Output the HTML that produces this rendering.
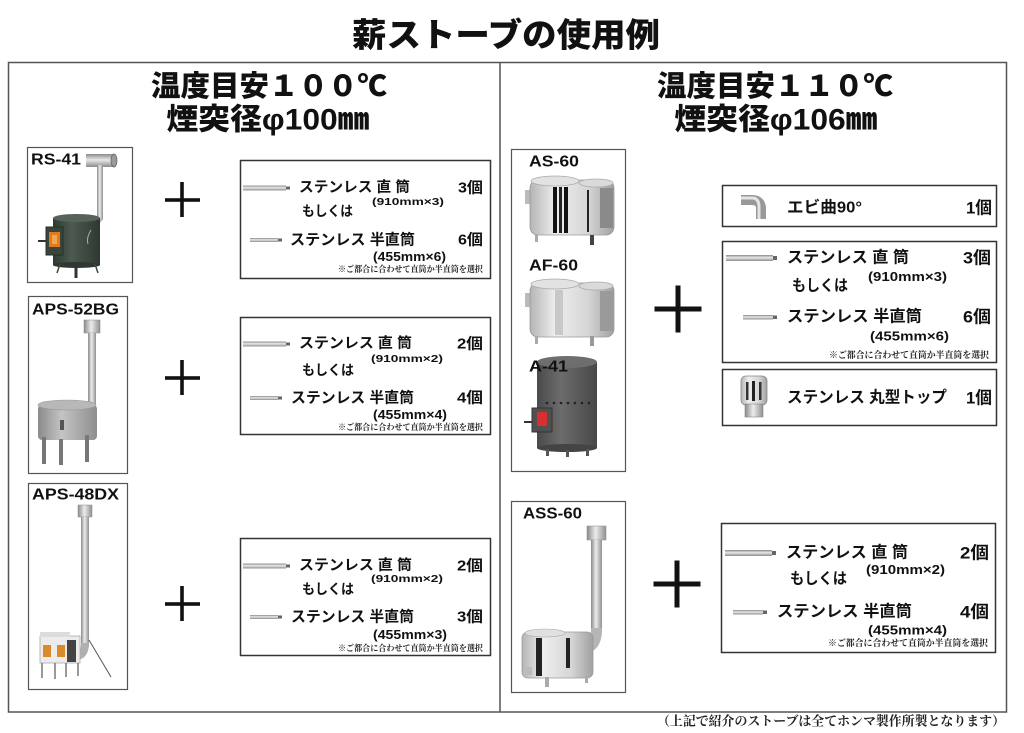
<!DOCTYPE html>
<html><head><meta charset="utf-8"><style>
html,body{margin:0;padding:0;background:#fff;}
svg{display:block;}
.jp{font-family:"Liberation Sans","Noto Sans CJK JP",sans-serif;font-weight:700;fill:#111;}
.hd{font-family:"Liberation Sans","Noto Sans CJK JP",sans-serif;font-weight:900;fill:#111;}
.lb{font-family:"Liberation Sans",sans-serif;font-weight:700;fill:#111;}
.sr{font-family:"Liberation Serif","Noto Serif CJK SC",serif;font-weight:700;fill:#222;}
</style></head><body>
<svg width="1024" height="733" viewBox="0 0 1024 733" xmlns="http://www.w3.org/2000/svg">
<defs>
<linearGradient id="pH" x1="0" y1="0" x2="0" y2="1"><stop offset="0" stop-color="#8a8a8a"/><stop offset="0.45" stop-color="#e8e8e8"/><stop offset="1" stop-color="#8c8c8c"/></linearGradient>
<linearGradient id="pV" x1="0" y1="0" x2="1" y2="0"><stop offset="0" stop-color="#8a8a8a"/><stop offset="0.45" stop-color="#ececec"/><stop offset="1" stop-color="#909090"/></linearGradient>
<linearGradient id="sv" x1="0" y1="0" x2="1" y2="0"><stop offset="0" stop-color="#b5b5b5"/><stop offset="0.3" stop-color="#eeeeee"/><stop offset="0.7" stop-color="#d5d5d5"/><stop offset="1" stop-color="#a0a0a0"/></linearGradient>
<linearGradient id="gr" x1="0" y1="0" x2="1" y2="0"><stop offset="0" stop-color="#8a8a8a"/><stop offset="0.4" stop-color="#c4c4c4"/><stop offset="1" stop-color="#8e8e8e"/></linearGradient>
<linearGradient id="dg" x1="0" y1="0" x2="1" y2="0"><stop offset="0" stop-color="#2f3a32"/><stop offset="0.4" stop-color="#4d5a50"/><stop offset="1" stop-color="#2e3830"/></linearGradient>
<linearGradient id="dk" x1="0" y1="0" x2="1" y2="0"><stop offset="0" stop-color="#4a4a4a"/><stop offset="0.4" stop-color="#6c6c6c"/><stop offset="1" stop-color="#474747"/></linearGradient>
</defs>
<rect width="1024" height="733" fill="#fff"/>

<text class="hd" x="506" y="35" font-size="33" text-anchor="middle" dominant-baseline="central" textLength="308" lengthAdjust="spacingAndGlyphs">薪ストーブの使用例</text>

<rect x="8.5" y="62.5" width="998" height="649.5" fill="none" stroke="#555" stroke-width="1.5"/>
<line x1="500" y1="62" x2="500" y2="712" stroke="#555" stroke-width="1.5"/>

<text class="hd" x="269" y="87" font-size="29" text-anchor="middle" dominant-baseline="central" textLength="236" lengthAdjust="spacingAndGlyphs">温度目安１００℃</text>
<text class="hd" x="268" y="120" font-size="30" text-anchor="middle" dominant-baseline="central" textLength="203" lengthAdjust="spacingAndGlyphs">煙突径φ100㎜</text>
<text class="hd" x="775" y="87" font-size="29" text-anchor="middle" dominant-baseline="central" textLength="236" lengthAdjust="spacingAndGlyphs">温度目安１１０℃</text>
<text class="hd" x="776" y="120" font-size="30" text-anchor="middle" dominant-baseline="central" textLength="203" lengthAdjust="spacingAndGlyphs">煙突径φ106㎜</text>

<rect x="27.5" y="147.5" width="105" height="135" fill="none" stroke="#555" stroke-width="1.2"/>
<rect x="28.5" y="296.5" width="99" height="177" fill="none" stroke="#555" stroke-width="1.2"/>
<rect x="28.5" y="483.5" width="99" height="206" fill="none" stroke="#555" stroke-width="1.2"/>

<!-- RS-41 -->
<rect x="86" y="154" width="28" height="13" fill="url(#pH)"/>
<ellipse cx="114" cy="160.5" rx="3" ry="6.5" fill="#9a9a9a" stroke="#666" stroke-width="0.8"/>
<rect x="97" y="165" width="6" height="55" fill="url(#pV)"/>
<path d="M100,218 L93,228" stroke="#bbb" stroke-width="6" fill="none"/>
<rect x="53" y="218" width="47" height="47" fill="url(#dg)"/>
<ellipse cx="76.5" cy="218" rx="23.5" ry="4" fill="#56625a"/>
<ellipse cx="76.5" cy="265" rx="23.5" ry="3" fill="#2e3830"/>
<rect x="46" y="227" width="17" height="28" fill="#3a4438" stroke="#263026" stroke-width="1"/>
<rect x="49" y="232" width="11" height="15" fill="#e07a20"/>
<rect x="52" y="235" width="5" height="9" fill="#f2a84a"/>
<line x1="38" y1="241" x2="46" y2="241" stroke="#333" stroke-width="2"/>
<line x1="60" y1="264" x2="57" y2="273" stroke="#444" stroke-width="1.5"/>
<line x1="76" y1="266" x2="76" y2="278" stroke="#333" stroke-width="3"/>
<line x1="95" y1="264" x2="98" y2="273" stroke="#444" stroke-width="1.5"/>
<path d="M91,230 Q86,238 88,244" stroke="#aaa" stroke-width="1" fill="none"/>

<!-- APS-52BG -->
<rect x="84" y="320" width="16" height="13" fill="url(#pV)" stroke="#888" stroke-width="0.5"/>
<rect x="88" y="333" width="8" height="75" fill="url(#pV)"/>
<path d="M92,404 Q92,414 84,417" stroke="#a8a8a8" stroke-width="8" fill="none"/>
<rect x="38" y="405" width="59" height="35" rx="4" fill="url(#gr)"/>
<ellipse cx="67" cy="405" rx="29" ry="5" fill="#b8b8b8" stroke="#999" stroke-width="0.6"/>
<rect x="42" y="437" width="4" height="27" fill="#777"/>
<rect x="59" y="439" width="4" height="26" fill="#777"/>
<rect x="85" y="435" width="4" height="27" fill="#777"/>
<rect x="60" y="420" width="4" height="10" fill="#555"/>

<!-- APS-48DX -->
<rect x="78" y="505" width="14" height="12" fill="url(#pV)" stroke="#888" stroke-width="0.5"/>
<rect x="81" y="517" width="8" height="130" fill="url(#pV)"/>
<path d="M85,643 Q85,655 77,656" stroke="#b0b0b0" stroke-width="8" fill="none"/>
<rect x="40" y="636" width="40" height="27" fill="#ececec" stroke="#aaa" stroke-width="0.8"/>
<rect x="40" y="632" width="30" height="5" fill="#dcdcdc"/>
<rect x="67" y="640" width="9" height="22" fill="#444"/>
<rect x="43" y="645" width="8" height="12" fill="#d98a2a"/>
<rect x="57" y="645" width="8" height="12" fill="#d98a2a"/>
<line x1="42" y1="663" x2="42" y2="678" stroke="#777" stroke-width="1.5"/>
<line x1="55" y1="663" x2="55" y2="679" stroke="#777" stroke-width="1.5"/>
<line x1="66" y1="663" x2="66" y2="677" stroke="#777" stroke-width="1.5"/>
<line x1="78" y1="663" x2="78" y2="676" stroke="#777" stroke-width="1.5"/>
<line x1="89" y1="640" x2="111" y2="677" stroke="#555" stroke-width="1"/>

<text class="lb" x="31" y="160" font-size="16" dominant-baseline="central" textLength="50" lengthAdjust="spacingAndGlyphs">RS-41</text>
<text class="lb" x="32" y="310" font-size="16" dominant-baseline="central" textLength="87" lengthAdjust="spacingAndGlyphs">APS-52BG</text>
<text class="lb" x="32" y="495" font-size="16" dominant-baseline="central" textLength="87" lengthAdjust="spacingAndGlyphs">APS-48DX</text>

<g fill="#111">
<rect x="165" y="198.2" width="35" height="3.6"/><rect x="180.2" y="182" width="3.6" height="35"/>
<rect x="165" y="376.2" width="35" height="3.6"/><rect x="180.2" y="360" width="3.6" height="35"/>
<rect x="165" y="602.2" width="35" height="3.6"/><rect x="180.2" y="586" width="3.6" height="35"/>
</g>

<rect x="240.5" y="160.5" width="250" height="118" fill="none" stroke="#333" stroke-width="1.5"/>
<rect x="240.5" y="317.5" width="250" height="117" fill="none" stroke="#333" stroke-width="1.5"/>
<rect x="240.5" y="538.5" width="250" height="117" fill="none" stroke="#333" stroke-width="1.5"/>

<!-- Box 1 -->
<rect x="243" y="185.5" width="43" height="5" fill="url(#pH)"/><rect x="286" y="186.5" width="4" height="3" fill="#666"/>
<text class="jp" x="299" y="188" font-size="14.5" dominant-baseline="central" textLength="111" lengthAdjust="spacingAndGlyphs">ステンレス 直 筒</text>
<text class="jp" x="458" y="188" font-size="15" dominant-baseline="central" textLength="25" lengthAdjust="spacingAndGlyphs">3個</text>
<text class="jp" x="372" y="202" font-size="10.5" dominant-baseline="central" textLength="72" lengthAdjust="spacingAndGlyphs">(910mm×3)</text>
<text class="jp" x="302" y="211" font-size="14" dominant-baseline="central" textLength="51" lengthAdjust="spacingAndGlyphs">もしくは</text>
<rect x="250" y="238" width="28" height="4" fill="url(#pH)"/><rect x="278" y="238.5" width="4" height="3" fill="#666"/>
<text class="jp" x="290" y="240" font-size="15" dominant-baseline="central" textLength="125" lengthAdjust="spacingAndGlyphs">ステンレス 半直筒</text>
<text class="jp" x="458" y="240" font-size="15" dominant-baseline="central" textLength="25" lengthAdjust="spacingAndGlyphs">6個</text>
<text class="jp" x="373" y="257" font-size="12.5" dominant-baseline="central" textLength="73" lengthAdjust="spacingAndGlyphs">(455mm×6)</text>
<text class="sr" x="338" y="269" font-size="8.5" dominant-baseline="central" textLength="145" lengthAdjust="spacingAndGlyphs">※ご都合に合わせて直筒か半直筒を選択</text>

<!-- Box 2 -->
<rect x="243" y="341.5" width="43" height="5" fill="url(#pH)"/><rect x="286" y="342.5" width="4" height="3" fill="#666"/>
<text class="jp" x="299" y="344" font-size="14.5" dominant-baseline="central" textLength="113" lengthAdjust="spacingAndGlyphs">ステンレス 直 筒</text>
<text class="jp" x="457" y="344" font-size="15" dominant-baseline="central" textLength="26" lengthAdjust="spacingAndGlyphs">2個</text>
<text class="jp" x="371" y="359" font-size="10.5" dominant-baseline="central" textLength="72" lengthAdjust="spacingAndGlyphs">(910mm×2)</text>
<text class="jp" x="302" y="370" font-size="14" dominant-baseline="central" textLength="52" lengthAdjust="spacingAndGlyphs">もしくは</text>
<rect x="250" y="396" width="28" height="4" fill="url(#pH)"/><rect x="278" y="396.5" width="4" height="3" fill="#666"/>
<text class="jp" x="291" y="398" font-size="15" dominant-baseline="central" textLength="123" lengthAdjust="spacingAndGlyphs">ステンレス 半直筒</text>
<text class="jp" x="457" y="398" font-size="15" dominant-baseline="central" textLength="26" lengthAdjust="spacingAndGlyphs">4個</text>
<text class="jp" x="373" y="415" font-size="12.5" dominant-baseline="central" textLength="74" lengthAdjust="spacingAndGlyphs">(455mm×4)</text>
<text class="sr" x="338" y="427" font-size="8.5" dominant-baseline="central" textLength="145" lengthAdjust="spacingAndGlyphs">※ご都合に合わせて直筒か半直筒を選択</text>

<!-- Box 3 -->
<rect x="243" y="563.5" width="43" height="5" fill="url(#pH)"/><rect x="286" y="564.5" width="4" height="3" fill="#666"/>
<text class="jp" x="299" y="566" font-size="14.5" dominant-baseline="central" textLength="113" lengthAdjust="spacingAndGlyphs">ステンレス 直 筒</text>
<text class="jp" x="457" y="566" font-size="15" dominant-baseline="central" textLength="26" lengthAdjust="spacingAndGlyphs">2個</text>
<text class="jp" x="371" y="579" font-size="10.5" dominant-baseline="central" textLength="72" lengthAdjust="spacingAndGlyphs">(910mm×2)</text>
<text class="jp" x="302" y="589" font-size="14" dominant-baseline="central" textLength="52" lengthAdjust="spacingAndGlyphs">もしくは</text>
<rect x="250" y="615" width="28" height="4" fill="url(#pH)"/><rect x="278" y="615.5" width="4" height="3" fill="#666"/>
<text class="jp" x="291" y="617" font-size="15" dominant-baseline="central" textLength="123" lengthAdjust="spacingAndGlyphs">ステンレス 半直筒</text>
<text class="jp" x="457" y="617" font-size="15" dominant-baseline="central" textLength="26" lengthAdjust="spacingAndGlyphs">3個</text>
<text class="jp" x="373" y="635" font-size="12.5" dominant-baseline="central" textLength="74" lengthAdjust="spacingAndGlyphs">(455mm×3)</text>
<text class="sr" x="338" y="648" font-size="8.5" dominant-baseline="central" textLength="145" lengthAdjust="spacingAndGlyphs">※ご都合に合わせて直筒か半直筒を選択</text>

<!-- Right side -->
<rect x="511.5" y="149.5" width="114" height="322" fill="none" stroke="#555" stroke-width="1.2"/>
<rect x="511.5" y="501.5" width="114" height="191" fill="none" stroke="#555" stroke-width="1.2"/>

<!-- AS-60 -->
<rect x="525" y="190" width="7" height="14" fill="#bbb"/>
<rect x="530" y="180" width="84" height="55" rx="8" fill="url(#sv)" stroke="#999" stroke-width="0.8"/>
<ellipse cx="555" cy="181" rx="24" ry="5" fill="#e2e2e2" stroke="#aaa" stroke-width="0.8"/>
<ellipse cx="596" cy="183" rx="17" ry="4" fill="#dadada" stroke="#aaa" stroke-width="0.8"/>
<rect x="553" y="187" width="4" height="46" fill="#111"/>
<rect x="559" y="187" width="3" height="46" fill="#222"/>
<rect x="564" y="187" width="4" height="46" fill="#111"/>
<rect x="587" y="190" width="2" height="42" fill="#222"/>
<rect x="600" y="188" width="13" height="40" fill="#8a8a8a"/>
<rect x="535" y="234" width="3" height="8" fill="#aaa"/>
<rect x="590" y="235" width="4" height="10" fill="#444"/>

<!-- AF-60 -->
<rect x="525" y="293" width="7" height="14" fill="#bbb"/>
<rect x="530" y="283" width="84" height="54" rx="8" fill="url(#sv)" stroke="#999" stroke-width="0.8"/>
<ellipse cx="555" cy="284" rx="24" ry="5" fill="#e2e2e2" stroke="#aaa" stroke-width="0.8"/>
<ellipse cx="596" cy="286" rx="17" ry="4" fill="#dadada" stroke="#aaa" stroke-width="0.8"/>
<rect x="555" y="290" width="8" height="45" fill="#c8c8c8"/>
<rect x="600" y="291" width="13" height="40" fill="#9a9a9a"/>
<rect x="535" y="336" width="3" height="8" fill="#aaa"/>
<rect x="590" y="336" width="4" height="10" fill="#999"/>

<!-- A-41 -->
<rect x="537" y="362" width="60" height="86" fill="url(#dk)"/>
<ellipse cx="567" cy="362" rx="30" ry="6" fill="#6e6e6e"/>
<ellipse cx="567" cy="448" rx="30" ry="4" fill="#444"/>
<g fill="#222"><circle cx="547" cy="403" r="1.3"/><circle cx="554" cy="403" r="1.3"/><circle cx="561" cy="403" r="1.3"/><circle cx="568" cy="403" r="1.3"/><circle cx="575" cy="403" r="1.3"/><circle cx="582" cy="403" r="1.3"/><circle cx="589" cy="403" r="1.3"/></g>
<rect x="532" y="408" width="20" height="24" fill="#505050" stroke="#333" stroke-width="1"/>
<rect x="537" y="412" width="10" height="14" fill="#d83030"/>
<line x1="524" y1="422" x2="532" y2="422" stroke="#333" stroke-width="2"/>
<rect x="546" y="449" width="3" height="7" fill="#555"/>
<rect x="566" y="450" width="3" height="7" fill="#555"/>
<rect x="586" y="449" width="3" height="7" fill="#555"/>

<!-- ASS-60 -->
<rect x="587" y="526" width="19" height="14" fill="url(#pV)" stroke="#888" stroke-width="0.5"/>
<rect x="591" y="540" width="11" height="92" fill="url(#pV)"/>
<path d="M596.5,628 Q597,645 586,648" stroke="#b5b5b5" stroke-width="11" fill="none"/>
<rect x="522" y="632" width="71" height="46" rx="6" fill="url(#sv)" stroke="#999" stroke-width="0.8"/>
<ellipse cx="545" cy="633" rx="20" ry="4" fill="#e0e0e0" stroke="#aaa" stroke-width="0.6"/>
<rect x="536" y="638" width="6" height="38" fill="#222"/>
<rect x="566" y="638" width="4" height="30" fill="#222"/>
<rect x="524" y="667" width="8" height="8" fill="#bbb"/>
<rect x="545" y="677" width="4" height="10" fill="#aaa"/>
<rect x="585" y="676" width="3" height="7" fill="#aaa"/>

<text class="lb" x="529" y="162" font-size="16" dominant-baseline="central" textLength="50" lengthAdjust="spacingAndGlyphs">AS-60</text>
<text class="lb" x="529" y="266" font-size="16" dominant-baseline="central" textLength="49" lengthAdjust="spacingAndGlyphs">AF-60</text>
<text class="lb" x="529" y="367" font-size="16" dominant-baseline="central" textLength="39" lengthAdjust="spacingAndGlyphs">A-41</text>
<text class="lb" x="523" y="514" font-size="16" dominant-baseline="central" textLength="59" lengthAdjust="spacingAndGlyphs">ASS-60</text>

<g fill="#111">
<rect x="654.5" y="306.5" width="47" height="5"/><rect x="675.5" y="285.5" width="5" height="47"/>
<rect x="653.5" y="581.5" width="47" height="5"/><rect x="674.5" y="560.5" width="5" height="47"/>
</g>

<rect x="722.5" y="185.5" width="274" height="41" fill="none" stroke="#333" stroke-width="1.5"/>
<rect x="722.5" y="241.5" width="274" height="121" fill="none" stroke="#333" stroke-width="1.5"/>
<rect x="722.5" y="369.5" width="274" height="56" fill="none" stroke="#333" stroke-width="1.5"/>
<rect x="721.5" y="523.5" width="274" height="129" fill="none" stroke="#333" stroke-width="1.5"/>

<!-- Box A -->
<path d="M741,200 L752,200 Q761,200 761,209 L761,219" stroke="#999" stroke-width="10" fill="none"/>
<path d="M741,198 L752,198 Q759,198 759,207 L759,219" stroke="#e4e4e4" stroke-width="3" fill="none"/>
<text class="jp" x="787" y="208" font-size="16" dominant-baseline="central" textLength="75" lengthAdjust="spacingAndGlyphs">エビ曲90°</text>
<text class="jp" x="966" y="208" font-size="17" dominant-baseline="central" textLength="26" lengthAdjust="spacingAndGlyphs">1個</text>

<!-- Box B -->
<rect x="726" y="255" width="47" height="6" fill="url(#pH)"/><rect x="773" y="256" width="4" height="4" fill="#666"/>
<text class="jp" x="787" y="258" font-size="16" dominant-baseline="central" textLength="122" lengthAdjust="spacingAndGlyphs">ステンレス 直 筒</text>
<text class="jp" x="963" y="258" font-size="17" dominant-baseline="central" textLength="28" lengthAdjust="spacingAndGlyphs">3個</text>
<text class="jp" x="868" y="277" font-size="12.5" dominant-baseline="central" textLength="79" lengthAdjust="spacingAndGlyphs">(910mm×3)</text>
<text class="jp" x="792" y="286" font-size="15.5" dominant-baseline="central" textLength="56" lengthAdjust="spacingAndGlyphs">もしくは</text>
<rect x="743" y="315" width="30" height="4.5" fill="url(#pH)"/><rect x="773" y="315.5" width="4" height="3.5" fill="#666"/>
<text class="jp" x="787" y="317" font-size="16" dominant-baseline="central" textLength="135" lengthAdjust="spacingAndGlyphs">ステンレス 半直筒</text>
<text class="jp" x="963" y="317" font-size="17" dominant-baseline="central" textLength="28" lengthAdjust="spacingAndGlyphs">6個</text>
<text class="jp" x="870" y="336" font-size="13" dominant-baseline="central" textLength="79" lengthAdjust="spacingAndGlyphs">(455mm×6)</text>
<text class="sr" x="829" y="355" font-size="9" dominant-baseline="central" textLength="160" lengthAdjust="spacingAndGlyphs">※ご都合に合わせて直筒か半直筒を選択</text>

<!-- Box C -->
<rect x="741" y="376" width="26" height="29" rx="5" fill="url(#sv)" stroke="#888" stroke-width="0.8"/>
<rect x="746" y="382" width="2.5" height="18" fill="#333"/>
<rect x="752" y="381" width="3" height="20" fill="#222"/>
<rect x="759" y="382" width="2.5" height="18" fill="#333"/>
<rect x="745" y="404" width="18" height="13" fill="url(#pV)" stroke="#888" stroke-width="0.6"/>
<text class="jp" x="787" y="398" font-size="16" dominant-baseline="central" textLength="160" lengthAdjust="spacingAndGlyphs">ステンレス 丸型トップ</text>
<text class="jp" x="966" y="398" font-size="17" dominant-baseline="central" textLength="26" lengthAdjust="spacingAndGlyphs">1個</text>

<!-- Box D -->
<rect x="725" y="550" width="47" height="6" fill="url(#pH)"/><rect x="772" y="551" width="4" height="4" fill="#666"/>
<text class="jp" x="786" y="553" font-size="16" dominant-baseline="central" textLength="122" lengthAdjust="spacingAndGlyphs">ステンレス 直 筒</text>
<text class="jp" x="960" y="553" font-size="17" dominant-baseline="central" textLength="29" lengthAdjust="spacingAndGlyphs">2個</text>
<text class="jp" x="866" y="570" font-size="12.5" dominant-baseline="central" textLength="79" lengthAdjust="spacingAndGlyphs">(910mm×2)</text>
<text class="jp" x="790" y="579" font-size="15.5" dominant-baseline="central" textLength="57" lengthAdjust="spacingAndGlyphs">もしくは</text>
<rect x="733" y="610" width="30" height="4.5" fill="url(#pH)"/><rect x="763" y="610.5" width="4" height="3.5" fill="#666"/>
<text class="jp" x="777" y="612" font-size="16" dominant-baseline="central" textLength="135" lengthAdjust="spacingAndGlyphs">ステンレス 半直筒</text>
<text class="jp" x="960" y="612" font-size="17" dominant-baseline="central" textLength="29" lengthAdjust="spacingAndGlyphs">4個</text>
<text class="jp" x="868" y="630" font-size="13" dominant-baseline="central" textLength="79" lengthAdjust="spacingAndGlyphs">(455mm×4)</text>
<text class="sr" x="828" y="643" font-size="9" dominant-baseline="central" textLength="160" lengthAdjust="spacingAndGlyphs">※ご都合に合わせて直筒か半直筒を選択</text>

<text class="sr" x="657" y="721" font-size="13" dominant-baseline="central" textLength="348" lengthAdjust="spacingAndGlyphs">（上記で紹介のストーブは全てホンマ製作所製となります）</text>
</svg>
</body></html>
